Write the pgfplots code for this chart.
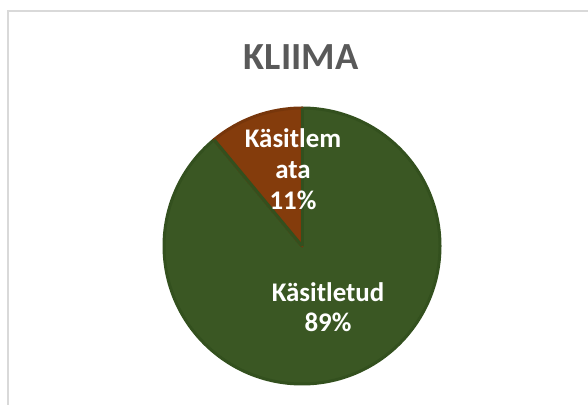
\documentclass[border=0pt]{standalone}
\usepackage{pgfplots}
\pgfplotsset{compat=1.18}
\usepackage{pgfplotstable}
\usepackage{fontspec}
\setmainfont{Carlito}
\definecolor{pgreen}{HTML}{3A5723}
\definecolor{pgreenedge}{HTML}{33501E}
\definecolor{pbrown}{HTML}{843C0C}
\definecolor{pbrownedge}{HTML}{77360B}
\definecolor{titlegray}{HTML}{595959}
\definecolor{framegray}{HTML}{D9D9D9}
\pgfplotstableread{
label value
Kasitletud 89
Kasitlemata 11
}\piedata
\begin{document}
\begin{tikzpicture}
\pgfplotstablegetelem{0}{value}\of\piedata \let\va\pgfplotsretval
\pgfplotstablegetelem{1}{value}\of\piedata \let\vb\pgfplotsretval
\pgfmathsetmacro{\angA}{90-3.6*\va}
\pgfmathsetmacro{\angB}{\angA-3.6*\vb}
\begin{axis}[at={(0,0)},anchor=south west, width=588bp, height=405bp, scale only axis,
  xmin=0,xmax=588,ymin=0,ymax=405, hide axis, clip=false]
\draw[framegray, line width=2bp] (axis cs:588,394) -- (axis cs:8,394) -- (axis cs:8,0);
\node[font=\fontsize{38.5}{46}\selectfont\bfseries, text=titlegray] at (axis cs:301,348) {KLIIMA};
\filldraw[fill=pgreen, draw=pgreenedge, line width=3bp, line join=round]
  (axis cs:302,159) -- ++(90:138bp) arc[start angle=90, end angle=\angA, radius=138bp] -- cycle;
\filldraw[fill=pbrown, draw=pbrownedge, line width=3bp, line join=round]
  (axis cs:302,159) -- ++(\angA:138bp) arc[start angle=\angA, end angle=\angB, radius=138bp] -- cycle;
\draw[pgreenedge, line width=3bp] (axis cs:302,159) -- ++(\angA:138bp);
\draw[pgreenedge, line width=3bp] (axis cs:302,159) -- ++(90:138bp);
\node[text=white, font=\fontsize{27}{31}\selectfont\bfseries, align=center] at (axis cs:293,236) {Käsitlem\\ata\\11\%};
\node[text=white, font=\fontsize{27}{30}\selectfont\bfseries, align=center] at (axis cs:328,98) {Käsitletud\\89\%};
\end{axis}
\pgfresetboundingbox
\path[use as bounding box] (0,0) rectangle (588bp,405bp);
\end{tikzpicture}
\end{document}
